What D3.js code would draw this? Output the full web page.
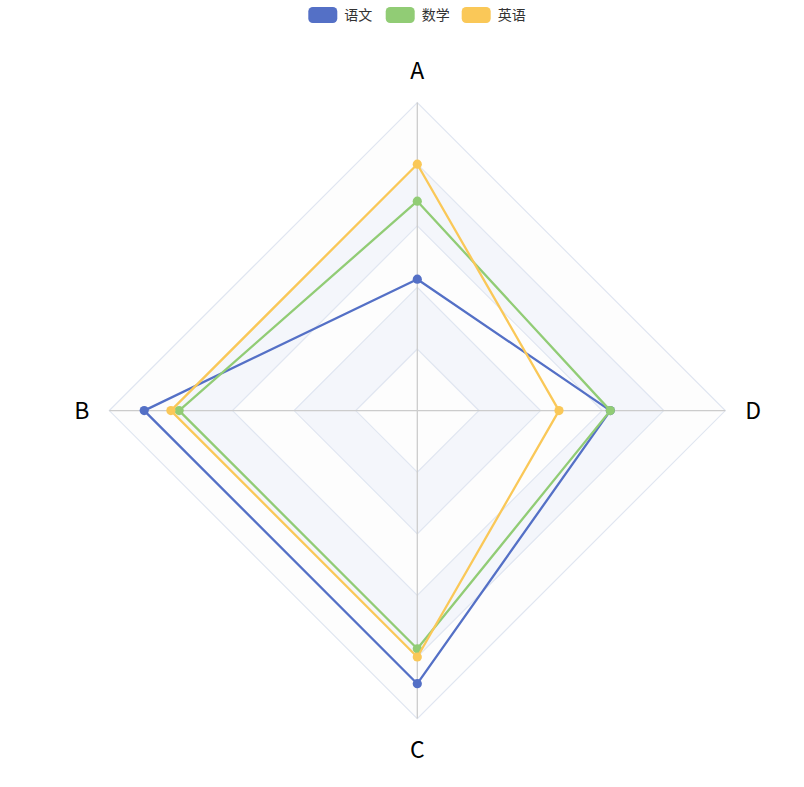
<!DOCTYPE html>
<html>
<head>
<meta charset="utf-8">
<script src="https://cdn.jsdelivr.net/npm/d3@7"></script>
<style>
  body { margin: 0; background: #fff; }
  svg { display: block; font-family: "Noto Sans CJK SC", "Noto Sans", sans-serif; }
  .legend-text { font-size: 14px; fill: #333; }
  .axis-name { font-size: 23px; fill: #000; }
</style>
</head>
<body>
<svg id="chart" width="804" height="787"></svg>
<script>
// Data ////////////////////////////////////////////////////////////////
var indicators = ["A", "B", "C", "D"];
var indicatorMax = 150;
var seriesNames = ["语文", "数学", "英语"];
var yuwen = [64, 133, 133, 94];
var shuxue = [102, 116, 116, 94];
var yingyu = [120, 120, 120, 69];
var splitLevels = [30, 60, 90, 120, 150];

var colors = ["#5470c6", "#91cc75", "#fac858"];
var seriesData = [yuwen, shuxue, yingyu].map(function(v, i) {
    return {name: seriesNames[i], values: v, color: colors[i]};
});

var cx = 417.3, cy = 410.6, radius = 308;

var svg = d3.select("#chart");

// radius scale + angle for each indicator (counter-clockwise from top)
var scaleR = d3.scaleLinear().domain([0, indicatorMax]).range([0, radius]);
var scaleA = d3.scalePoint().domain(indicators).range([0, 2 * Math.PI * 3 / 4]);

function pos(name, value) {
    var a = Math.PI / 2 + scaleA(name);
    return [cx + scaleR(value) * Math.cos(a), cy - scaleR(value) * Math.sin(a)];
}

function ringPath(value) {
    return "M" + indicators.map(function(n) { return pos(n, value).join(","); }).join("L") + "Z";
}

var grid = svg.append("g");

// Split areas, drawn outer to inner so each ring covers the next
var areaColors = ["rgba(250,250,250,0.3)", "rgba(210,219,238,0.25)"];
splitLevels.slice().reverse().forEach(function(v) {
    var i = splitLevels.indexOf(v);
    grid.append("path")
        .attr("d", ringPath(v))
        .attr("fill", "#fff");
    grid.append("path")
        .attr("d", ringPath(v))
        .attr("fill", areaColors[i % 2]);
});

// Split lines
grid.selectAll(".split-line")
    .data(splitLevels)
    .enter()
    .append("path")
        .attr("class", "split-line")
        .attr("d", function(d) { return ringPath(d); })
        .attr("fill", "none")
        .attr("stroke", "#E0E6F1")
        .attr("stroke-width", 1.2);

// Axis lines
grid.selectAll(".axis-line")
    .data(indicators)
    .enter()
    .append("line")
        .attr("class", "axis-line")
        .attr("x1", cx)
        .attr("y1", cy)
        .attr("x2", function(d) { return pos(d, indicatorMax)[0]; })
        .attr("y2", function(d) { return pos(d, indicatorMax)[1]; })
        .attr("stroke", "#cccccc")
        .attr("stroke-width", 1.3);

// Indicator names
var nameGap = 20;
svg.selectAll(".axis-name")
    .data(indicators)
    .enter()
    .append("text")
        .attr("class", "axis-name")
        .attr("x", function(d) { return pos(d, indicatorMax + scaleR.invert(nameGap))[0]; })
        .attr("y", function(d) { return pos(d, indicatorMax + scaleR.invert(nameGap))[1]; })
        .attr("text-anchor", function(d) {
            var p = pos(d, indicatorMax);
            if (Math.abs(p[0] - cx) < 1) return "middle";
            return p[0] < cx ? "end" : "start";
        })
        .attr("dy", function(d) {
            var p = pos(d, indicatorMax);
            if (Math.abs(p[0] - cx) < 1) return p[1] < cy ? "-0.15em" : "0.85em";
            return "0.35em";
        })
        .text(function(d) { return d; });

// Series
var lineGen = d3.line().curve(d3.curveLinearClosed);

var series = svg.selectAll(".series")
    .data(seriesData)
    .enter()
    .append("g")
        .attr("class", "series");

series.append("path")
    .attr("d", function(s) {
        return lineGen(indicators.map(function(n, i) { return pos(n, s.values[i]); }));
    })
    .attr("fill", "none")
    .attr("stroke", function(s) { return s.color; })
    .attr("stroke-width", 2.3)
    .attr("stroke-linejoin", "bevel");

series.selectAll("circle")
    .data(function(s) {
        return s.values.map(function(v, i) { return {p: pos(indicators[i], v), color: s.color}; });
    })
    .enter()
    .append("circle")
        .attr("cx", function(d) { return d.p[0]; })
        .attr("cy", function(d) { return d.p[1]; })
        .attr("r", 4.6)
        .attr("fill", function(d) { return d.color; });

// Legend
var legendX = d3.scaleOrdinal().domain(seriesNames).range([308.3, 385.7, 461.7]);
var legend = svg.selectAll(".legend")
    .data(seriesData)
    .enter()
    .append("g")
        .attr("class", "legend")
        .attr("transform", function(s) { return "translate(" + legendX(s.name) + ",7)"; });

legend.append("rect")
    .attr("width", 29)
    .attr("height", 16)
    .attr("rx", 4.5)
    .attr("fill", function(s) { return s.color; });

legend.append("text")
    .attr("class", "legend-text")
    .attr("x", 36)
    .attr("y", 8)
    .attr("dy", "0.35em")
    .text(function(s) { return s.name; });
</script>
</body>
</html>
